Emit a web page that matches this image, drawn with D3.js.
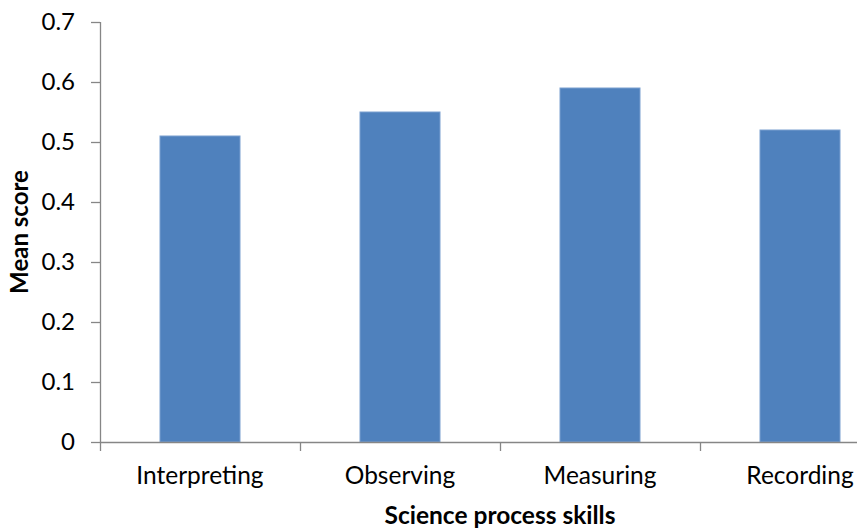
<!DOCTYPE html>
<html>
<head>
<meta charset="utf-8">
<script src="https://cdn.jsdelivr.net/npm/d3@7"></script>
<style>
  html, body { margin: 0; padding: 0; background: #fff; }
  svg { display: block; }
  text { font-family: Lato, "Open Sans", sans-serif; fill: #000; }
</style>
</head>
<body>
<svg id="chart" width="857" height="529"></svg>
<script>
// Mean score for each science process skill
const categories = ["Interpreting", "Observing", "Measuring", "Recording"];
const meanScores = [0.51, 0.55, 0.59, 0.52];
const yTickValues = [0, 0.1, 0.2, 0.3, 0.4, 0.5, 0.6, 0.7];
const xAxisTitle = "Science process skills";
const yAxisTitle = "Mean score";

const svg = d3.select("#chart");
const axisColor = "#868686";
const barColor = "#4f81bd";

// plot area (the last category band runs past the right edge)
const plotLeft = 100, plotRight = 900, plotTop = 22, plotBottom = 442;

const x = d3.scaleBand()
  .domain(categories)
  .range([plotLeft, plotRight])
  .paddingInner(0.6)
  .paddingOuter(0.3);

const y = d3.scaleLinear()
  .domain([0, 0.7])
  .range([plotBottom, plotTop]);

// bars
svg.append("g")
  .selectAll("rect")
  .data(categories.map((c, i) => ({ c, v: meanScores[i] })))
  .join("rect")
  .attr("x", d => x(d.c))
  .attr("y", d => y(d.v))
  .attr("width", x.bandwidth())
  .attr("height", d => y(0) - y(d.v))
  .attr("fill", barColor)
  .attr("stroke", "#7a9fd0")
  .attr("stroke-width", 1);

// y axis
const yAxis = svg.append("g")
  .attr("transform", `translate(${plotLeft},0)`)
  .call(d3.axisLeft(y).tickValues(yTickValues).tickSize(9).tickPadding(16)
    .tickFormat(d => d === 0 ? "0" : d3.format(".1f")(d)));
yAxis.select(".domain").attr("stroke", axisColor).attr("stroke-width", 1.3)
  .attr("d", `M0.5,${plotTop}V${plotBottom}`);
yAxis.selectAll(".tick line").attr("stroke", axisColor).attr("stroke-width", 1.3);
yAxis.selectAll(".tick text")
  .attr("font-size", 24)
  .attr("font-family", "Lato, sans-serif")
  .attr("fill", "#000");

// x axis: boundary ticks between categories
const boundaries = d3.range(categories.length + 1).map(i => plotLeft + i * x.step());
const xAxisG = svg.append("g");
xAxisG.append("line")
  .attr("x1", plotLeft).attr("x2", plotRight)
  .attr("y1", plotBottom + 0.5).attr("y2", plotBottom + 0.5)
  .attr("stroke", axisColor).attr("stroke-width", 1.3);
xAxisG.selectAll("line.bt")
  .data(boundaries)
  .join("line")
  .attr("class", "bt")
  .attr("x1", d => d + 0.5).attr("x2", d => d + 0.5)
  .attr("y1", plotBottom).attr("y2", plotBottom + 9)
  .attr("stroke", axisColor).attr("stroke-width", 1.3);
xAxisG.selectAll("text.cat")
  .data(categories)
  .join("text")
  .attr("class", "cat")
  .attr("x", d => x(d) + x.bandwidth() / 2)
  .attr("y", 484)
  .attr("text-anchor", "middle")
  .attr("font-size", 24.5)
  .text(d => d);

// axis titles
svg.append("text")
  .attr("x", (plotLeft + plotRight) / 2)
  .attr("y", 524)
  .attr("text-anchor", "middle")
  .attr("font-size", 24.5)
  .attr("font-weight", "bold")
  .text(xAxisTitle);

svg.append("text")
  .attr("transform", `translate(28,${(plotTop + plotBottom) / 2}) rotate(-90)`)
  .attr("text-anchor", "middle")
  .attr("font-size", 24)
  .attr("font-weight", "bold")
  .text(yAxisTitle);
</script>
</body>
</html>
